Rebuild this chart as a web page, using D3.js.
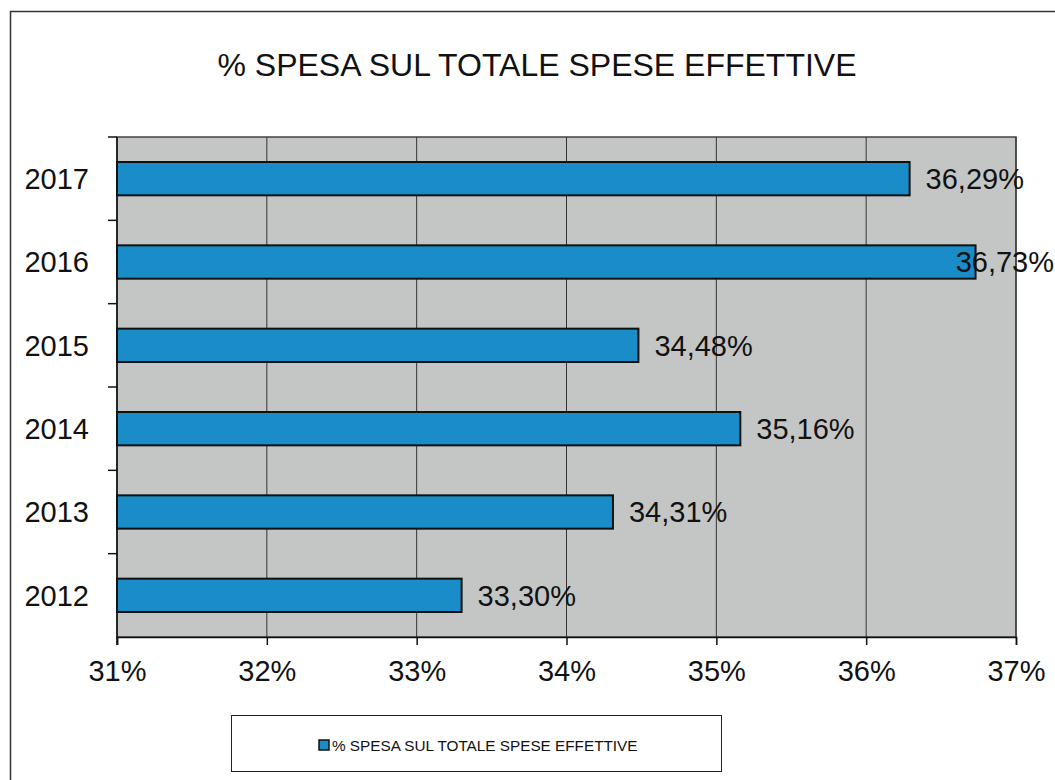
<!DOCTYPE html>
<html>
<head>
<meta charset="utf-8">
<script src="https://cdn.jsdelivr.net/npm/d3@7"></script>
<style>
  body { margin: 0; background: #fff; }
  svg { display: block; font-family: "Liberation Sans", Arial, sans-serif; }
</style>
</head>
<body>
<svg width="1055" height="780"></svg>
<script>
// data
var years = ["2017", "2016", "2015", "2014", "2013", "2012"];
var values = [36.29, 36.73, 34.48, 35.16, 34.31, 33.30];
var labels = ["36,29%", "36,73%", "34,48%", "35,16%", "34,31%", "33,30%"];
var xTicks = [31, 32, 33, 34, 35, 36, 37];
var title = "% SPESA SUL TOTALE SPESE EFFETTIVE";

var svg = d3.select("svg"),
    margin = {top: 137, right: 39, bottom: 143, left: 117},
    width = 1055 - margin.left - margin.right,
    height = 780 - margin.top - margin.bottom;

// outer frame (right/bottom edges fall outside the scan)
svg.append("rect")
    .attr("x", 10.5).attr("y", 11.5)
    .attr("width", 1100).attr("height", 900)
    .attr("fill", "none")
    .attr("stroke", "#333")
    .attr("stroke-width", 1.5);

svg.append("text")
    .attr("x", 537)
    .attr("y", 76)
    .attr("text-anchor", "middle")
    .style("font-size", "32px")
    .style("fill", "#111")
    .text(title);

var g = svg.append("g")
    .attr("transform", "translate(" + margin.left + "," + margin.top + ")");

var xScale = d3.scaleLinear().domain([31, 37]).range([0, width]);
var yScale = d3.scaleBand().domain(years).range([0, height]).paddingInner(0.6).paddingOuter(0.3);

// plot background
g.append("rect")
    .attr("width", width)
    .attr("height", height)
    .attr("fill", "#c4c6c6")
    .attr("stroke", "#444")
    .attr("stroke-width", 1.5);

// gridlines
g.selectAll(".grid")
    .data(xTicks.slice(1))
  .enter().append("line")
    .attr("class", "grid")
    .attr("x1", function(d) { return xScale(d); })
    .attr("x2", function(d) { return xScale(d); })
    .attr("y1", 0)
    .attr("y2", height)
    .attr("stroke", "#333")
    .attr("stroke-width", 1);

// x axis
var xAxis = d3.axisBottom(xScale)
    .tickValues(xTicks)
    .tickSize(8)
    .tickPadding(15)
    .tickFormat(function(d) { return d + "%"; });

var xAxisEl = g.append("g")
    .attr("transform", "translate(0," + height + ")")
    .call(xAxis);
xAxisEl.select(".domain").attr("stroke", "#111").attr("stroke-width", 1.5);
xAxisEl.selectAll(".tick line").attr("stroke", "#111").attr("stroke-width", 1.5);
xAxisEl.selectAll("text")
    .style("font-size", "29px")
    .style("font-family", "'Liberation Sans', Arial, sans-serif")
    .attr("fill", "#111");

// y axis: ticks sit on the band boundaries
var step = yScale.step();
var yAxisEl = g.append("g");
yAxisEl.append("line")
    .attr("x1", 0).attr("x2", 0)
    .attr("y1", 0).attr("y2", height + 8)
    .attr("stroke", "#111").attr("stroke-width", 1.5);
yAxisEl.selectAll(".ytick")
    .data(d3.range(years.length))
  .enter().append("line")
    .attr("x1", -9).attr("x2", 0)
    .attr("y1", function(i) { return i * step; })
    .attr("y2", function(i) { return i * step; })
    .attr("stroke", "#111").attr("stroke-width", 1.5);
yAxisEl.selectAll(".ylabel")
    .data(years)
  .enter().append("text")
    .attr("x", -28)
    .attr("y", function(d) { return yScale(d) + yScale.bandwidth() / 2; })
    .attr("dy", "0.36em")
    .attr("text-anchor", "end")
    .style("font-size", "29px")
    .attr("fill", "#111")
    .text(function(d) { return d; });

// bars
var rows = years.map(function(y, i) { return {year: y, value: values[i], label: labels[i]}; });

g.selectAll(".bar")
    .data(rows)
  .enter().append("rect")
    .attr("class", "bar")
    .attr("x", xScale(31))
    .attr("y", function(d) { return yScale(d.year); })
    .attr("width", function(d) { return xScale(d.value) - xScale(31); })
    .attr("height", yScale.bandwidth())
    .attr("fill", "#1a8dc8")
    .attr("stroke", "#111")
    .attr("stroke-width", 2);

// data labels
g.selectAll(".val")
    .data(rows)
  .enter().append("text")
    .attr("class", "val")
    .attr("y", function(d) { return yScale(d.year) + yScale.bandwidth() / 2; })
    .attr("dy", "0.36em")
    .style("font-size", "29px")
    .attr("fill", "#111")
    .text(function(d) { return d.label; })
    .attr("x", function(d) {
      var w = this.getComputedTextLength();
      return Math.min(xScale(d.value) + 16, 1054 - margin.left - w);
    });

// legend
var legend = svg.append("g");
legend.append("rect")
    .attr("x", 231.5).attr("y", 715.5)
    .attr("width", 490).attr("height", 56)
    .attr("fill", "#fff")
    .attr("stroke", "#222")
    .attr("stroke-width", 1);
legend.append("rect")
    .attr("x", 319).attr("y", 740)
    .attr("width", 10).attr("height", 10)
    .attr("fill", "#1a8dc8")
    .attr("stroke", "#111")
    .attr("stroke-width", 1.5);
legend.append("text")
    .attr("x", 332)
    .attr("y", 751)
    .style("font-size", "15.3px")
    .attr("fill", "#111")
    .text(title);
</script>
</body>
</html>
